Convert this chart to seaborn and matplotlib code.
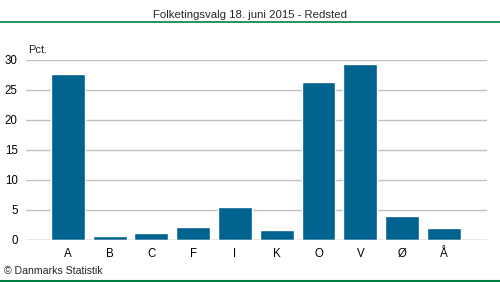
import matplotlib
matplotlib.use("Agg")
import matplotlib.pyplot as plt
import seaborn as sns
import pandas as pd

parties = ["A", "B", "C", "F", "I", "K", "O", "V", "Ø", "Å"]
values = [27.7, 0.75, 1.1, 2.25, 5.5, 1.7, 26.3, 29.3, 4.0, 2.0]
yticks = [0, 5, 10, 15, 20, 25, 30]
title = "Folketingsvalg 18. juni 2015 - Redsted"

sns.set_theme(style="white")
plt.rcParams['font.family'] = ['Liberation Sans', 'DejaVu Sans']

df = pd.DataFrame({"parti": parties, "pct": values})

fig = plt.figure(figsize=(5, 2.82), dpi=100)
ax = fig.add_axes([26/500, 1-240/282, (487-26)/500, 180/282])
sns.barplot(data=df, x="parti", y="pct", color="#00628f", saturation=1,
            width=0.81, ax=ax, zorder=3)
ax.set_xlim(-1.0, 10.03)
ax.set_ylim(0, 30)
ax.set_yticks(yticks)
ax.yaxis.grid(True, color="#c0c0c8", linewidth=1)
ax.set_axisbelow(True)
for s in ax.spines.values():
    s.set_visible(False)
ax.axhline(0, color="#c0c0c8", linewidth=1.0, zorder=4)
ax.set_xlabel("")
ax.set_ylabel("")
ax.tick_params(axis="both", length=0, labelsize=8.3, colors="#000000")
ax.tick_params(axis="x", pad=6)
ax.tick_params(axis="y", pad=6)

fig.text(0.5, 1-15/282, title, ha="center", va="center", fontsize=8.2)
fig.add_artist(plt.Line2D([0, 1], [1-22/282, 1-22/282], color="#008040", linewidth=1.2))
fig.add_artist(plt.Line2D([0, 1], [1-281/282, 1-281/282], color="#008040", linewidth=1.5))
fig.text(28/500, 1-50/282, "Pct.", ha="left", va="center", fontsize=8)
fig.text(4/500, 1-271/282, "© Danmarks Statistik", ha="left", va="center", fontsize=7.6)

fig.savefig("out.png", dpi=100)
